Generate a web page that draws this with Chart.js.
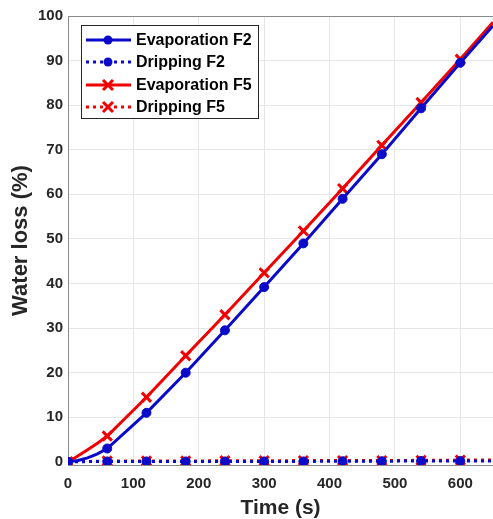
<!DOCTYPE html>
<html>
<head>
<meta charset="utf-8">
<script src="https://cdn.jsdelivr.net/npm/chart.js@4"></script>
<style>
  body { margin: 0; background: #fff; }
  #wrap { width: 493px; height: 519px; }
</style>
</head>
<body>
<div id="wrap"><canvas id="chart" width="493" height="519"></canvas></div>
<script>
// time samples (s); markers only every 60 s
const times = [0, 15, 30, 45, 60, 120, 180, 240, 300, 360, 420, 480, 540, 600, 650];
const evapF2 = [0, 0.3, 0.9, 1.8, 3.0, 11.0, 20.0, 29.5, 39.2, 49.0, 59.0, 69.0, 79.3, 89.5, 97.8];
const dripF2 = [0, 0.05, 0.05, 0.1, 0.1, 0.1, 0.1, 0.1, 0.1, 0.1, 0.15, 0.15, 0.2, 0.2, 0.2];
const evapF5 = [0, 1.3, 2.7, 4.2, 5.8, 14.5, 23.8, 33.0, 42.4, 51.8, 61.3, 71.0, 80.6, 90.3, 98.6];
const dripF5 = [0, 0.1, 0.1, 0.15, 0.2, 0.2, 0.2, 0.25, 0.25, 0.3, 0.3, 0.3, 0.35, 0.4, 0.45];

const xTicks = [0, 100, 200, 300, 400, 500, 600];
const yTicks = [0, 10, 20, 30, 40, 50, 60, 70, 80, 90, 100];

const seriesNames = ['Evaporation F2', 'Dripping F2', 'Evaporation F5', 'Dripping F5'];
const BLUE = '#0a0ac8';
const RED = '#f00000';
const FONT = 'Arial, "Liberation Sans", sans-serif';

const toPoints = vals => times.map((t, i) => ({ x: t, y: vals[i] }));
const markerSize = r => ctx => (ctx.raw && ctx.raw.x % 60 === 0 ? r : 0);

function makeSet(label, vals, color, dotted, style) {
    return {
        label: label,
        data: toPoints(vals),
        borderColor: color,
        backgroundColor: color,
        borderWidth: 3,
        borderDash: dotted ? [3, 4] : [],
        pointStyle: style,
        pointRadius: markerSize(style === 'circle' ? 4.5 : 6.5),
        pointBorderWidth: style === 'circle' ? 1 : 3,
        pointBorderColor: color,
        pointBackgroundColor: color,
        tension: 0,
        fill: false
    };
}

// MATLAB-style legend inside plot + top frame line
const boxLegend = {
    id: 'boxLegend',
    afterDraw(chart) {
        const c = chart.ctx;
        const area = chart.chartArea;
        c.save();
        c.strokeStyle = '#8a8a8a';
        c.lineWidth = 1;
        c.beginPath();
        c.moveTo(area.left, area.top + 0.5);
        c.lineTo(area.right, area.top + 0.5);
        c.stroke();

        const x0 = 81, y0 = 25, w = 177, h = 93;
        c.fillStyle = '#fff';
        c.fillRect(x0, y0, w, h);
        c.strokeStyle = '#262626';
        c.strokeRect(x0 + 0.5, y0 + 0.5, w, h);
        const rows = [40, 62, 85, 107];
        chart.data.datasets.forEach((ds, i) => {
            const y = rows[i];
            c.strokeStyle = ds.borderColor;
            c.lineWidth = 3;
            c.setLineDash(ds.borderDash);
            c.beginPath();
            c.moveTo(86, y);
            c.lineTo(131, y);
            c.stroke();
            c.setLineDash([]);
            if (ds.pointStyle === 'circle') {
                c.fillStyle = ds.borderColor;
                c.beginPath();
                c.arc(108, y, 4.5, 0, Math.PI * 2);
                c.fill();
            } else {
                c.lineWidth = 3;
                c.beginPath();
                c.moveTo(103, y - 5); c.lineTo(113, y + 5);
                c.moveTo(113, y - 5); c.lineTo(103, y + 5);
                c.stroke();
            }
            c.fillStyle = '#000';
            c.font = 'bold 16px ' + FONT;
            c.textBaseline = 'middle';
            c.fillText(ds.label, 136, y + 1);
        });
        c.restore();
    }
};

new Chart(document.getElementById('chart').getContext('2d'), {
    type: 'line',
    data: {
        datasets: [
            makeSet(seriesNames[0], evapF2, BLUE, false, 'circle'),
            makeSet(seriesNames[1], dripF2, BLUE, true, 'circle'),
            makeSet(seriesNames[2], evapF5, RED, false, 'crossRot'),
            makeSet(seriesNames[3], dripF5, RED, true, 'crossRot')
        ]
    },
    options: {
        responsive: false,
        animation: false,
        layout: { autoPadding: false, padding: { top: 16, right: 0, left: 0, bottom: 0 } },
        plugins: { legend: { display: false }, tooltip: { enabled: false } },
        scales: {
            x: {
                type: 'linear',
                min: 0,
                max: 650,
                afterBuildTicks: s => { s.ticks = xTicks.map(v => ({ value: v })); },
                afterFit: s => { s.height = 54; s.paddingRight = 0; s.paddingLeft = 0; },
                ticks: { color: '#262626', font: { family: FONT, size: 15, weight: 'bold' }, padding: 10, maxRotation: 0, autoSkip: false },
                grid: { color: '#e6e6e6', drawTicks: false },
                border: { color: '#8a8a8a' },
                title: { display: true, text: 'Time (s)', color: '#262626', font: { family: FONT, size: 21, weight: 'bold', lineHeight: 1 }, padding: { top: 0, bottom: 0 } }
            },
            y: {
                min: -0.7,
                max: 100,
                afterBuildTicks: s => { s.ticks = yTicks.map(v => ({ value: v })); },
                afterFit: s => { s.width = 68; s.paddingTop = 0; s.paddingBottom = 0; },
                ticks: { color: '#262626', font: { family: FONT, size: 15, weight: 'bold' }, padding: 5, autoSkip: false },
                grid: { color: '#e6e6e6', drawTicks: false },
                border: { color: '#8a8a8a' },
                title: { display: true, text: 'Water loss (%)', color: '#262626', font: { family: FONT, size: 22, weight: 'bold', lineHeight: 1 }, padding: { top: 10, bottom: 0 } }
            }
        }
    },
    plugins: [boxLegend]
});
</script>
</body>
</html>
